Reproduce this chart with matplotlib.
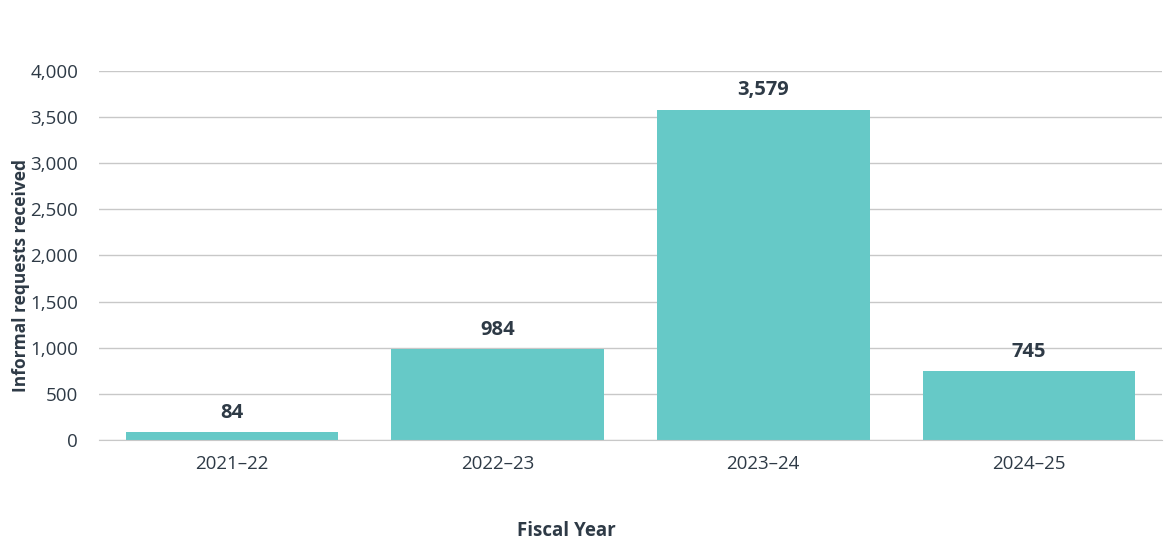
import matplotlib
matplotlib.use("Agg")
import matplotlib.pyplot as plt
from matplotlib.ticker import FuncFormatter

years  = ["2021\u201322", "2022\u201323", "2023\u201324", "2024\u201325"]
counts = [84, 984, 3579, 745]

bar_color  = "#66C9C7"
text_color = "#2E3A46"
grid_color = "#C8C8C8"

plt.rcParams['font.family'] = ['Open Sans', 'DejaVu Sans']

fig = plt.figure(figsize=(11.7, 5.52), dpi=100)
ax = fig.add_axes([0.0846, 0.2029, 0.9084, 0.6685])

x = range(len(years))
bars = ax.bar(x, counts, width=0.8, color=bar_color, zorder=3)
ax.bar_label(bars, labels=[f"{v:,}" for v in counts], padding=7,
             fontsize=14.5, fontweight='bold', color=text_color)

ax.set_xlim(-0.5, len(years) - 0.5)
ax.set_ylim(0, 4000)
ax.set_yticks(range(0, 4001, 500))
ax.yaxis.set_major_formatter(FuncFormatter(lambda v, p: f"{int(v):,}"))
ax.set_xticks(list(x))
ax.set_xticklabels(years)

ax.grid(axis='y', color=grid_color, linewidth=1, zorder=0)
for s in ['top', 'right', 'left']:
  ax.spines[s].set_visible(False)
ax.spines['bottom'].set_color(grid_color)
ax.spines['bottom'].set_zorder(4)

ax.tick_params(axis='y', length=0, pad=15, labelsize=13.5, labelcolor=text_color)
ax.tick_params(axis='x', length=0, pad=11, labelsize=13.5, labelcolor=text_color)

ax.set_ylabel("Informal requests received", fontsize=12.5, fontweight='bold',
              color=text_color)
ax.yaxis.set_label_coords(-0.065, 0.447)
fig.text(0.484, 0.038, "Fiscal Year", fontsize=13.5, fontweight='bold',
         color=text_color, ha='center', va='center')

fig.savefig("out.png", dpi=100)
